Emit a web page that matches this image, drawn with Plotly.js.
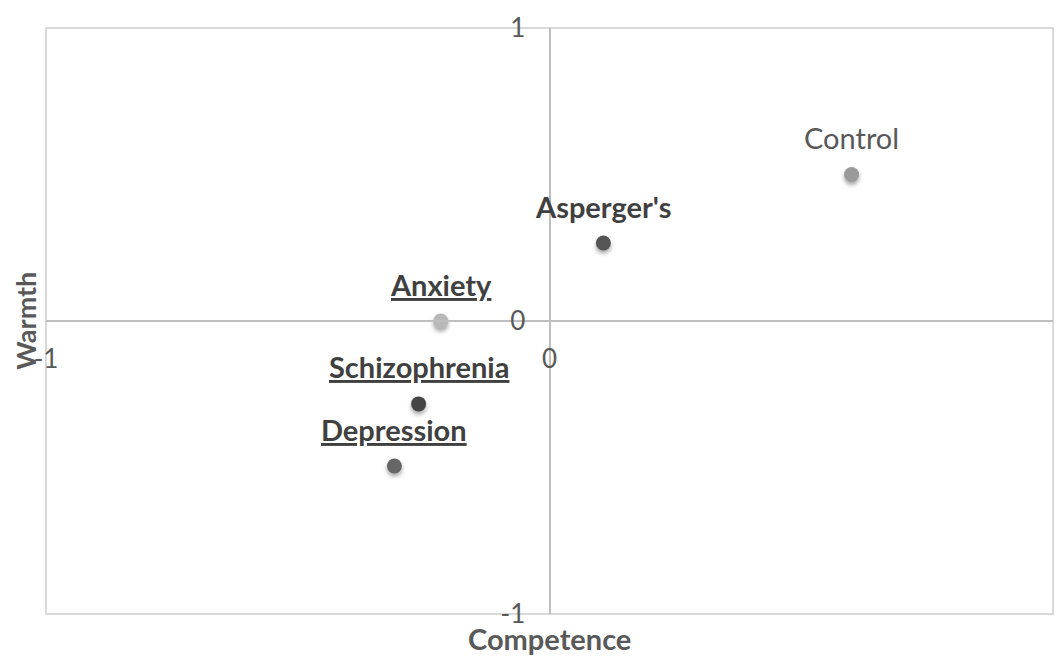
<!DOCTYPE html>
<html>
<head>
<meta charset="utf-8">
<script src="https://cdn.plot.ly/plotly-3.0.1.min.js"></script>
<style>
html,body{margin:0;padding:0;background:#fff;}
#chart{width:1060px;height:657px;}
#chart .scatterlayer .point{filter:drop-shadow(0px 3px 2px rgba(0,0,0,0.35));}
</style>
</head>
<body>
<div id="chart"></div>
<script>
const groups = ["Control", "Asperger's", "Anxiety", "Schizophrenia", "Depression"];
const competence = [0.60, 0.107, -0.216, -0.26, -0.308];
const warmth = [0.50, 0.266, 0.0, -0.283, -0.495];
const markerColors = ["#9a9a9a", "#555555", "#b8b8b8", "#454545", "#666666"];
const labelText = ["Control", "<b>Asperger's</b>", "<b><u>Anxiety</u></b>", "<b><u>Schizophrenia</u></b>", "<b><u>Depression</u></b>"];
const labelColors = ["#595959", "#404040", "#404040", "#404040", "#404040"];
const tickVals = [-1, 0, 1];
const tickText = ["-1", "0", "1"];

const FONT = "Lato, 'Open Sans', sans-serif";

const trace = {
  type: 'scatter',
  mode: 'markers',
  x: competence,
  y: warmth,
  marker: {size: 15, color: markerColors, line: {width: 0}},
  hoverinfo: 'skip',
  cliponaxis: false
};

const labelAnnotations = groups.map((g, i) => ({
  text: labelText[i], x: competence[i], y: warmth[i], xref: 'x', yref: 'y',
  xanchor: 'center', yanchor: 'middle', yshift: 37, showarrow: false,
  font: {family: FONT, size: 29, color: labelColors[i]}
}));

const layout = {
  width: 1060, height: 657,
  margin: {l: 46, r: 7, t: 28, b: 43},
  paper_bgcolor: '#ffffff', plot_bgcolor: '#ffffff',
  showlegend: false,
  font: {family: FONT, color: '#595959'},
  xaxis: {
    range: [-1, 1], anchor: 'free', position: 0.5,
    showgrid: false, zeroline: false,
    showline: true, linecolor: '#bfbfbf', linewidth: 2,
    tickvals: tickVals, ticktext: tickText, ticks: '',
    ticklabelstandoff: 15,
    tickfont: {family: FONT, size: 26, color: '#595959'},
    automargin: false, fixedrange: true
  },
  yaxis: {
    range: [-1, 1], anchor: 'free', position: 0.5,
    showgrid: false, zeroline: false,
    showline: true, linecolor: '#bfbfbf', linewidth: 2,
    tickvals: tickVals, ticktext: tickText, ticks: '',
    ticklabelstandoff: 18,
    tickfont: {family: FONT, size: 26, color: '#595959'},
    automargin: false, fixedrange: true
  },
  shapes: [{
    type: 'rect', xref: 'paper', yref: 'paper', x0: 0, x1: 1, y0: 0, y1: 1,
    line: {color: '#d9d9d9', width: 2}, layer: 'below'
  }],
  annotations: labelAnnotations.concat([
    {text: '<b>Competence</b>', xref: 'paper', yref: 'paper', x: 0.5, y: -0.041,
     xanchor: 'center', yanchor: 'middle', showarrow: false,
     font: {family: FONT, size: 29, color: '#595959'}},
    {text: '<b>Warmth</b>', xref: 'paper', yref: 'paper', x: -0.021, y: 0.5,
     xanchor: 'center', yanchor: 'middle', showarrow: false, textangle: -90,
     font: {family: FONT, size: 27, color: '#595959'}}
  ])
};

Plotly.newPlot('chart', [trace], layout, {staticPlot: true, displayModeBar: false});
</script>
</body>
</html>
